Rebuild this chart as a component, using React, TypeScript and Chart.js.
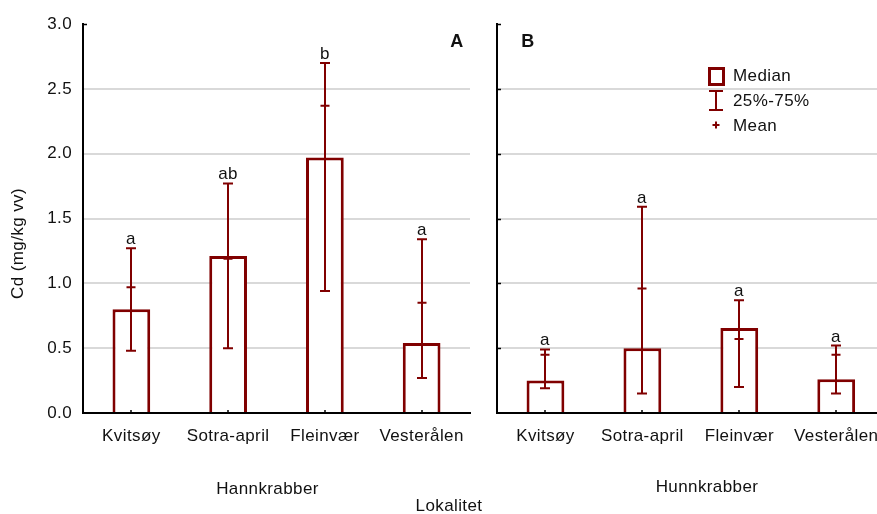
import React, { useEffect, useRef } from 'react';
import { Chart, registerables } from 'chart.js';
Chart.register(...registerables);

const categories = ['Kvitsøy', 'Sotra-april', 'Fleinvær', 'Vesterålen'];
const yTicks = [0, 0.5, 1.0, 1.5, 2.0, 2.5, 3.0];

const maleMedian = [0.8, 1.21, 1.97, 0.54];
const maleQ1 = [0.48, 0.5, 0.94, 0.27];
const maleQ3 = [1.27, 1.77, 2.7, 1.34];
const maleMean = [0.97, 1.19, 2.37, 0.85];
const maleLetters = ['a', 'ab', 'b', 'a'];

const femaleMedian = [0.25, 0.5, 0.655, 0.26];
const femaleQ1 = [0.19, 0.15, 0.2, 0.15];
const femaleQ3 = [0.49, 1.59, 0.87, 0.52];
const femaleMean = [0.45, 0.96, 0.57, 0.45];
const femaleLetters = ['a', 'a', 'a', 'a'];

const RED = '#800000';
const TXT = '#111111';
const FONT = '"Liberation Sans", Arial, sans-serif';
const SPACING = '0.4px';

function spacingPlugin() {
  return {
    id: 'spacing',
    beforeDraw(chart: any) {
      (chart.ctx as any).letterSpacing = SPACING;
    },
  };
}

function statsPlugin(q1: number[], q3: number[], mean: number[], letters: string[]) {
  return {
    id: 'stats',
    afterDatasetsDraw(chart: any) {
      const ctx = chart.ctx;
      const x = chart.scales.x;
      const y = chart.scales.y;
      ctx.save();
      ctx.strokeStyle = RED;
      ctx.lineWidth = 2;
      categories.forEach((_, i) => {
        const px = Math.round(x.getPixelForValue(i));
        const y1 = y.getPixelForValue(q1[i]);
        const y3 = y.getPixelForValue(q3[i]);
        const ym = y.getPixelForValue(mean[i]);
        ctx.beginPath();
        ctx.moveTo(px, y1);
        ctx.lineTo(px, y3);
        ctx.moveTo(px - 5, y1);
        ctx.lineTo(px + 5, y1);
        ctx.moveTo(px - 5, y3);
        ctx.lineTo(px + 5, y3);
        ctx.moveTo(px - 4.5, ym);
        ctx.lineTo(px + 4.5, ym);
        ctx.stroke();
        ctx.fillStyle = TXT;
        ctx.font = `17px ${FONT}`;
        ctx.textAlign = 'center';
        ctx.textBaseline = 'alphabetic';
        ctx.fillText(letters[i], px, y3 - 4);
      });
      ctx.restore();
    },
  };
}

function axisStubs(ctx: any, chart: any, allY: boolean) {
  const ca = chart.chartArea;
  const x = chart.scales.x;
  const y = chart.scales.y;
  ctx.save();
  ctx.strokeStyle = '#000';
  ctx.lineWidth = 1.5;
  ctx.beginPath();
  yTicks.forEach((v) => {
    if (v === 0) return;
    if (!allY && v !== 3) return;
    const py = Math.round(y.getPixelForValue(v)) + 0.5;
    ctx.moveTo(ca.left, py);
    ctx.lineTo(ca.left + 4, py);
  });
  categories.forEach((_, i) => {
    const px = Math.round(x.getPixelForValue(i));
    ctx.moveTo(px, ca.bottom);
    ctx.lineTo(px, ca.bottom - 3);
  });
  ctx.stroke();
  ctx.restore();
}

function decorA() {
  return {
    id: 'decorA',
    afterDraw(chart: any) {
      const ctx = chart.ctx;
      const ca = chart.chartArea;
      axisStubs(ctx, chart, false);
      ctx.save();
      ctx.fillStyle = TXT;
      ctx.textAlign = 'center';
      ctx.textBaseline = 'middle';
      ctx.font = `bold 18px ${FONT}`;
      ctx.fillText('A', ca.right - 13, ca.top + 18);
      ctx.font = `17px ${FONT}`;
      ctx.fillText('Hannkrabber', (ca.left + ca.right) / 2 - 9, ca.bottom + 76);
      ctx.fillText('Lokalitet', ca.right - 21, ca.bottom + 93);
      ctx.translate(ca.left - 65, (ca.top + ca.bottom) / 2 + 25);
      ctx.rotate(-Math.PI / 2);
      ctx.font = `17px ${FONT}`;
      ctx.fillText('Cd (mg/kg vv)', 0, 0);
      ctx.restore();
    },
  };
}

function decorB() {
  return {
    id: 'decorB',
    afterDraw(chart: any) {
      const ctx = chart.ctx;
      const ca = chart.chartArea;
      axisStubs(ctx, chart, true);
      ctx.save();
      ctx.fillStyle = TXT;
      ctx.textAlign = 'center';
      ctx.textBaseline = 'middle';
      ctx.font = `bold 18px ${FONT}`;
      ctx.fillText('B', ca.left + 31, ca.top + 18);
      ctx.font = `17px ${FONT}`;
      ctx.fillText('Hunnkrabber', ca.left + 210, ca.bottom + 74);
      // legend
      const lx = ca.left + 211;
      ctx.strokeStyle = RED;
      ctx.lineWidth = 3;
      ctx.strokeRect(lx + 1.5, 68.5, 14, 16);
      ctx.lineWidth = 2;
      const cx = lx + 8;
      ctx.beginPath();
      ctx.moveTo(cx, 91);
      ctx.lineTo(cx, 110);
      ctx.moveTo(cx - 7, 91);
      ctx.lineTo(cx + 7, 91);
      ctx.moveTo(cx - 7, 110);
      ctx.lineTo(cx + 7, 110);
      ctx.moveTo(cx - 3.5, 125);
      ctx.lineTo(cx + 3.5, 125);
      ctx.moveTo(cx, 121.5);
      ctx.lineTo(cx, 128.5);
      ctx.stroke();
      ctx.textAlign = 'left';
      ctx.fillText('Median', lx + 25, 76);
      ctx.fillText('25%-75%', lx + 25, 101);
      ctx.fillText('Mean', lx + 25, 126);
      ctx.restore();
    },
  };
}

function makeConfig(median: number[], showYTicks: boolean, yWidth: number, rightPad: number, plugins: any[]) {
  return {
    type: 'bar' as const,
    data: {
      labels: categories,
      datasets: [
        {
          data: median,
          backgroundColor: '#ffffff',
          borderColor: RED,
          borderWidth: 3,
          barPercentage: 0.39,
          categoryPercentage: 1,
        },
      ],
    },
    options: {
      responsive: false,
      animation: false as const,
      layout: { padding: { left: 0, right: rightPad, top: 24, bottom: 0 } },
      plugins: { legend: { display: false }, tooltip: { enabled: false } },
      scales: {
        x: {
          type: 'category' as const,
          offset: true,
          grid: { display: false, drawTicks: false },
          border: { display: true, color: '#000', width: 2 },
          ticks: { color: TXT, font: { family: FONT, size: 17 }, padding: 13, maxRotation: 0, autoSkip: false },
          afterFit: (s: any) => {
            s.height = 101;
          },
        },
        y: {
          type: 'linear' as const,
          min: 0,
          max: 3,
          afterBuildTicks: (s: any) => {
            s.ticks = yTicks.map((v) => ({ value: v }));
          },
          grid: {
            drawTicks: false,
            lineWidth: 2,
            color: (c: any) =>
              c.tick && (c.tick.value === 0 || c.tick.value === 3) ? 'rgba(0,0,0,0)' : '#d9d9d9',
          },
          border: { display: true, color: '#000', width: 2 },
          ticks: {
            display: showYTicks,
            color: TXT,
            font: { family: FONT, size: 17 },
            padding: 11,
            callback: (v: any) => Number(v).toFixed(1),
          },
          afterFit: (s: any) => {
            s.width = yWidth;
          },
        },
      },
    },
    plugins,
  };
}

export default function App() {
  const refA = useRef<HTMLCanvasElement>(null);
  const refB = useRef<HTMLCanvasElement>(null);

  useEffect(() => {
    const a = new Chart(
      refA.current as HTMLCanvasElement,
      makeConfig(maleMedian, true, 83, 20, [
        spacingPlugin(),
        statsPlugin(maleQ1, maleQ3, maleMean, maleLetters),
        decorA(),
      ]) as any
    );
    const b = new Chart(
      refB.current as HTMLCanvasElement,
      makeConfig(femaleMedian, false, 7, 5, [
        spacingPlugin(),
        statsPlugin(femaleQ1, femaleQ3, femaleMean, femaleLetters),
        decorB(),
      ]) as any
    );
    return () => {
      a.destroy();
      b.destroy();
    };
  }, []);

  return (
    <div
      style={{
        position: 'absolute',
        left: 0,
        top: 0,
        width: 877,
        height: 514,
        overflow: 'hidden',
        background: '#ffffff',
      }}
    >
      <canvas
        ref={refA}
        width={490}
        height={514}
        style={{ position: 'absolute', left: 0, top: 0, width: 490, height: 514 }}
      />
      <canvas
        ref={refB}
        width={400}
        height={514}
        style={{ position: 'absolute', left: 490, top: 0, width: 400, height: 514 }}
      />
    </div>
  );
}
